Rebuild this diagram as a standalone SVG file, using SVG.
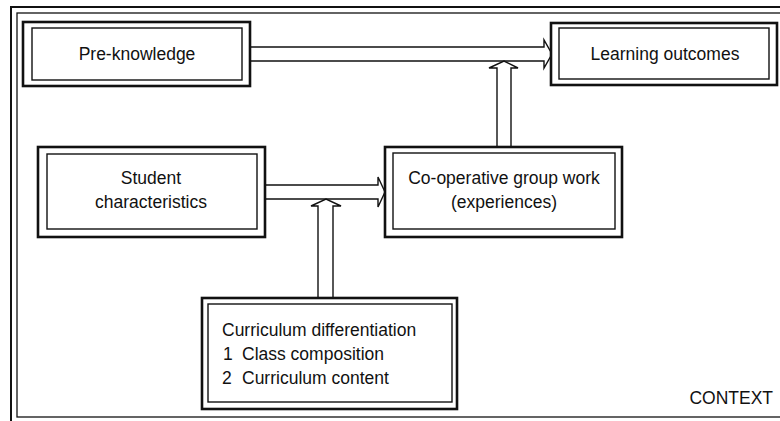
<svg xmlns="http://www.w3.org/2000/svg" width="780" height="421" viewBox="0 0 780 421">
<style>
.bg{fill:#ffffff}
.frameO{fill:none;stroke:#111;stroke-width:2}
.frameI{fill:none;stroke:#111;stroke-width:1.3}
.boxO{fill:#fff;stroke:#111;stroke-width:2.6}
.boxI{fill:none;stroke:#111;stroke-width:1.4}
.conn{fill:#fff;stroke:#111;stroke-width:1.4;stroke-linejoin:miter}
text{font-family:"Liberation Sans",Arial,sans-serif;font-size:17.5px;fill:#111}
.c{text-anchor:middle}
</style>
<rect class="bg" x="0" y="0" width="780" height="421"/>
<g id="context">
<rect class="frameO" x="11" y="7" width="800" height="430"/>
<rect class="frameI" x="17" y="13" width="790" height="404"/>
<text x="773" y="404" text-anchor="end">CONTEXT</text>
</g>
<g id="connectors">
<path class="conn" d="M250,47 H544 V40 L552,54 L544,68 V61 H250"/>
<path class="conn" d="M497,147 V68 H489 L504,61 L518,68 H511 V147"/>
<path class="conn" d="M265,185 H378 V177 L385,192 L378,207 V199 H265"/>
<path class="conn" d="M318,298 V206 H311 L326,199 L341,206 H333 V298"/>
</g>
<g id="pre-knowledge">
<rect class="boxO" x="23" y="22" width="227" height="64"/>
<rect class="boxI" x="32" y="28" width="210" height="52"/>
<text class="c" x="137" y="60">Pre-knowledge</text>
</g>
<g id="learning-outcomes">
<rect class="boxO" x="551" y="23" width="226" height="62"/>
<rect class="boxI" x="559" y="28" width="210" height="51"/>
<text class="c" x="665" y="60">Learning outcomes</text>
</g>
<g id="student-characteristics">
<rect class="boxO" x="38" y="147" width="227" height="90"/>
<rect class="boxI" x="47" y="154" width="210" height="75"/>
<text class="c" x="151" y="184">Student</text>
<text class="c" x="151" y="208">characteristics</text>
</g>
<g id="co-operative-group-work">
<rect class="boxO" x="385" y="147" width="237" height="90"/>
<rect class="boxI" x="393" y="153" width="222" height="76"/>
<text class="c" x="504" y="184">Co-operative group work</text>
<text class="c" x="504" y="208">(experiences)</text>
</g>
<g id="curriculum-differentiation">
<rect class="boxO" x="202" y="298" width="255" height="111"/>
<rect class="boxI" x="208" y="304" width="244" height="98"/>
<text x="222" y="336">Curriculum differentiation</text>
<text x="223" y="360">1</text>
<text x="242" y="360">Class composition</text>
<text x="222" y="384">2</text>
<text x="242" y="384">Curriculum content</text>
</g>
</svg>
